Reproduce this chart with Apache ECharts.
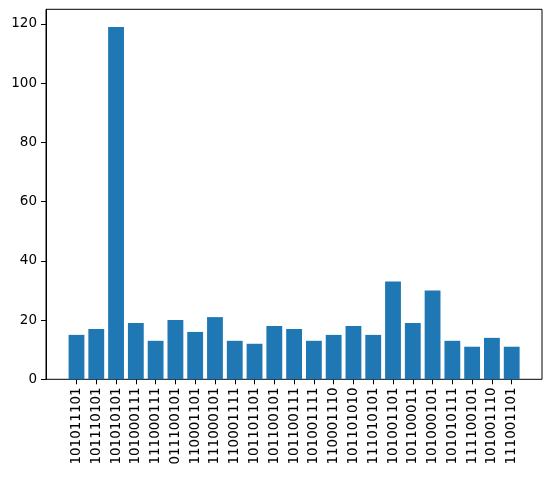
<!DOCTYPE html>
<html>
<head>
<meta charset="utf-8">
<script src="https://cdn.jsdelivr.net/npm/echarts@6/dist/echarts.min.js"></script>
<style>
    html, body { margin: 0; padding: 0; background: #fff; }
    #chart { width: 552px; height: 478px; }
</style>
</head>
<body>
<div id="chart"></div>
<script>
var labels = ['101011101', '101110101', '101010101', '101000111', '111000111', '011100101',
    '110001101', '111000101', '110001111', '101101101', '101100101', '101100111',
    '101001111', '110001110', '101101010', '111010101', '101001101', '101100011',
    '101000101', '101010111', '111100101', '101001110', '111001101'];
var counts = [15, 17, 119, 19, 13, 20, 16, 21, 13, 12, 18, 17, 13, 15, 18, 15, 33, 19, 30, 13, 11, 14, 11];
var yTicks = [0, 20, 40, 60, 80, 100, 120];

var yMax = 124.95;
var font = 'DejaVu Sans';

var chart = echarts.init(document.getElementById('chart'));
var option = {
    animation: false,
    grid: [
        // bars
        {left: 66.6, top: 9.3, width: 455, height: 370},
        // frame + y axis
        {left: 46, top: 9.3, width: 496, height: 370, show: true,
            borderColor: '#000', borderWidth: 1, backgroundColor: 'transparent'}
    ],
    xAxis: [
        {
            type: 'category', gridIndex: 0, data: labels,
            boundaryGap: true,
            axisLine: {show: false},
            axisTick: {show: true, alignWithLabel: true, length: 5, lineStyle: {color: '#000'}},
            axisLabel: {rotate: 90, interval: 0, fontSize: 13.5, color: '#000', fontFamily: font, margin: 8}
        },
        {type: 'value', gridIndex: 1, show: false, min: 0, max: 1}
    ],
    yAxis: [
        {type: 'value', gridIndex: 0, show: false, min: 0, max: yMax},
        {
            type: 'value', gridIndex: 1, min: 0, max: yMax,
            splitLine: {show: false},
            axisLine: {show: true, lineStyle: {color: '#000'}},
            axisTick: {show: true, length: 5, customValues: yTicks, lineStyle: {color: '#000'}},
            axisLabel: {
                fontSize: 13.5, color: '#000', fontFamily: font, margin: 9,
                customValues: yTicks
            }
        }
    ],
    series: [
        {
            type: 'bar', xAxisIndex: 0, yAxisIndex: 0,
            data: counts, barWidth: '80%',
            itemStyle: {color: '#1f77b4'}
        }
    ]
};
chart.setOption(option);
</script>
</body>
</html>
